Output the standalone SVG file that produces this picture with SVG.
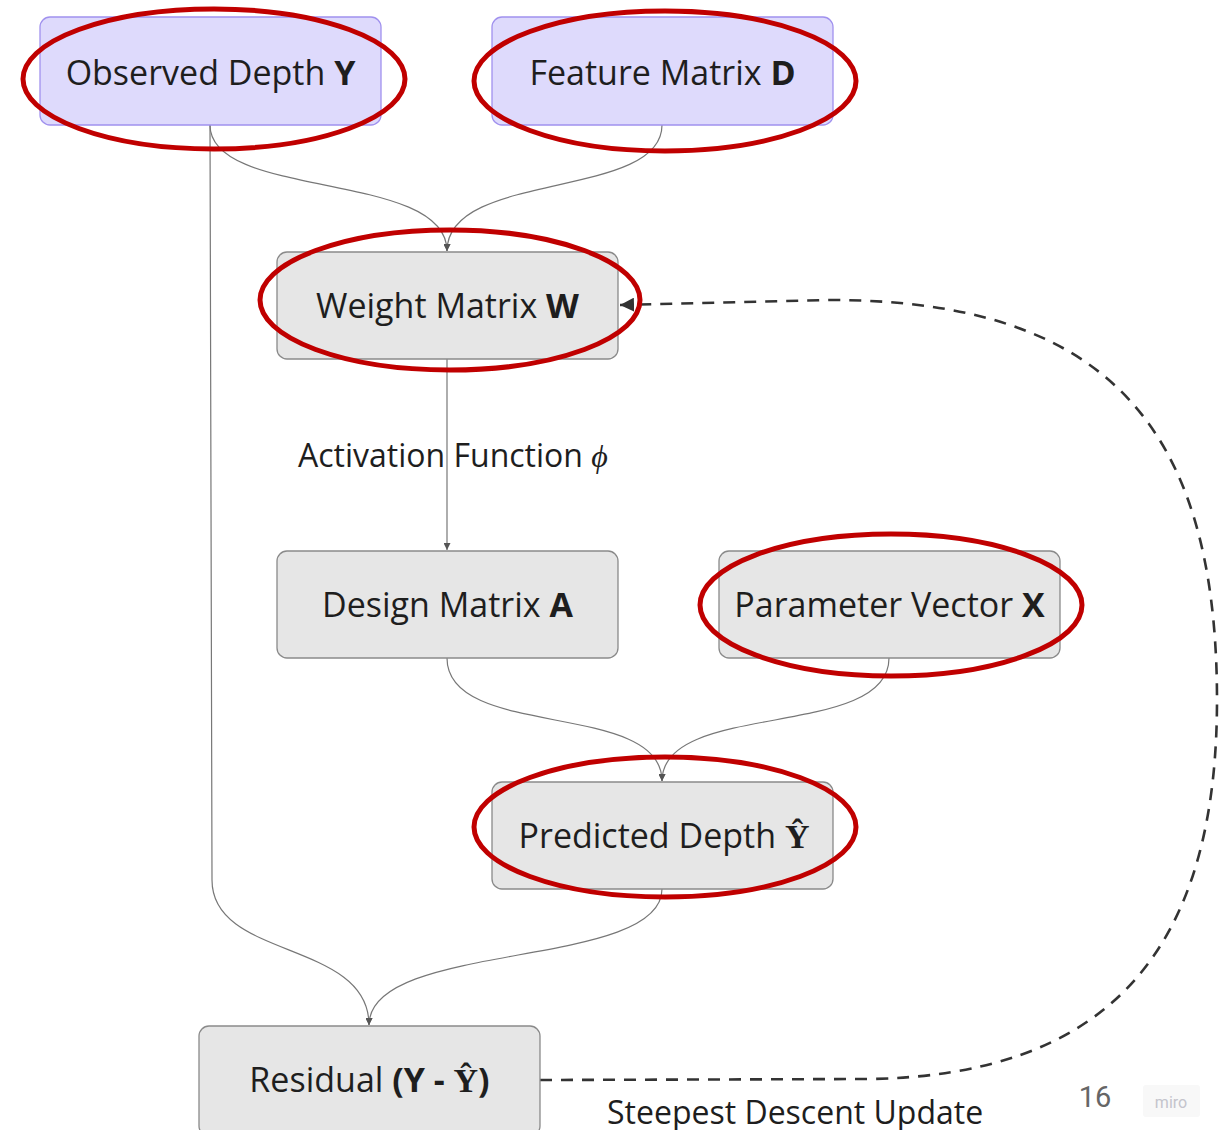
<svg xmlns="http://www.w3.org/2000/svg" width="1228" height="1130" viewBox="0 0 1228 1130">
<defs>
<style>
.lav{fill:#dedafc;stroke:#a091ee;stroke-width:1.3}
.gry{fill:#e6e6e6;stroke:#8a8a8a;stroke-width:1.3}
.t{font-family:"Open Sans","Noto Sans","Liberation Sans",sans-serif;font-size:34px;fill:#1e1e1e;text-anchor:middle}
.b{font-weight:bold}
.s{font-family:"Liberation Serif","DejaVu Serif",serif;font-weight:bold}
.lbl{font-family:"Open Sans","Noto Sans","Liberation Sans",sans-serif;font-size:32px;fill:#1e1e1e}
.c{fill:none;stroke:#777;stroke-width:1.2}
.d{fill:none;stroke:#333;stroke-width:2.6;stroke-dasharray:12 9}
.hl{fill:none;stroke:#c00000;stroke-width:5}
</style>
<marker id="a" viewBox="0 0 10 10" refX="10" refY="5" markerWidth="7" markerHeight="7" markerUnits="userSpaceOnUse" orient="auto"><path d="M0,0L10,5L0,10z" fill="#555"/></marker>
<marker id="ad" viewBox="0 0 10 10" refX="10" refY="5" markerWidth="14" markerHeight="14" markerUnits="userSpaceOnUse" orient="auto"><path d="M0,0L10,5L0,10z" fill="#333"/></marker>
</defs>
<rect width="1228" height="1130" fill="#fff"/>
<g id="connectors">
<path class="c" d="M210,125 C210,200 447,170 447,251" marker-end="url(#a)"/>
<path class="c" d="M662,125 C662,200 447,170 447,251" marker-end="url(#a)"/>
<path class="c" d="M447,359 L447,550" marker-end="url(#a)"/>
<path class="c" d="M447,658 C447,740 662,700 662,781" marker-end="url(#a)"/>
<path class="c" d="M889,658 C889,740 662,700 662,781" marker-end="url(#a)"/>
<path class="c" d="M210,125 L212,880 C212,960 369,940 369,1025" marker-end="url(#a)"/>
<path class="c" d="M662,889 C662,970 369,940 369,1025" marker-end="url(#a)"/>
<path class="d" d="M540,1080 L870,1079 C1100,1075 1217,960 1217,700 C1217,420 1100,300 830,300 L620,305" marker-end="url(#ad)"/>
<text class="lbl" x="298" y="467">Activation Function <tspan font-family="Liberation Serif,serif" font-style="italic">ϕ</tspan></text>
<text class="lbl" x="607" y="1124">Steepest Descent Update</text>
</g>
<g id="observed">
<rect class="lav" x="40" y="17" width="341" height="108" rx="10"/>
<text class="t" x="210.5" y="85">Observed Depth <tspan class="b">Y</tspan></text>
</g>
<g id="feature">
<rect class="lav" x="492" y="17" width="341" height="108" rx="10"/>
<text class="t" x="662.5" y="85">Feature Matrix <tspan class="b">D</tspan></text>
</g>
<g id="weight">
<rect class="gry" x="277" y="252" width="341" height="107" rx="10"/>
<text class="t" x="447.5" y="318">Weight Matrix <tspan class="b">W</tspan></text>
</g>
<g id="design">
<rect class="gry" x="277" y="551" width="341" height="107" rx="10"/>
<text class="t" x="447.5" y="617">Design Matrix <tspan class="b">A</tspan></text>
</g>
<g id="parameter">
<rect class="gry" x="719" y="551" width="341" height="107" rx="10"/>
<text class="t" x="889.5" y="617">Parameter Vector <tspan class="b">X</tspan></text>
</g>
<g id="predicted">
<rect class="gry" x="492" y="782" width="341" height="107" rx="10"/>
<text class="t" x="664" y="848">Predicted Depth <tspan class="s">Ŷ</tspan></text>
</g>
<g id="residual">
<rect class="gry" x="199" y="1026" width="341" height="110" rx="10"/>
<text class="t" x="369.5" y="1092">Residual <tspan class="b">(Y - </tspan><tspan class="s">Ŷ</tspan><tspan class="b">)</tspan></text>
</g>
<g id="highlights">
<ellipse class="hl" cx="214" cy="79" rx="191" ry="70"/>
<ellipse class="hl" cx="665" cy="81" rx="191" ry="70"/>
<ellipse class="hl" cx="450" cy="300" rx="190" ry="70"/>
<ellipse class="hl" cx="891" cy="605" rx="191" ry="71"/>
<ellipse class="hl" cx="665" cy="827" rx="191" ry="70"/>
</g>
<g id="footer">
<text x="1095" y="1107" font-family="Roboto,'Liberation Sans',sans-serif" font-size="29" fill="#666" text-anchor="middle">16</text>
<rect x="1143" y="1085" width="57" height="32" rx="3" fill="#f8f8f8"/>
<text x="1171" y="1108" font-family="Roboto,'Liberation Sans',sans-serif" font-size="16" fill="#c4c4cc" text-anchor="middle">miro</text>
</g>
</svg>
